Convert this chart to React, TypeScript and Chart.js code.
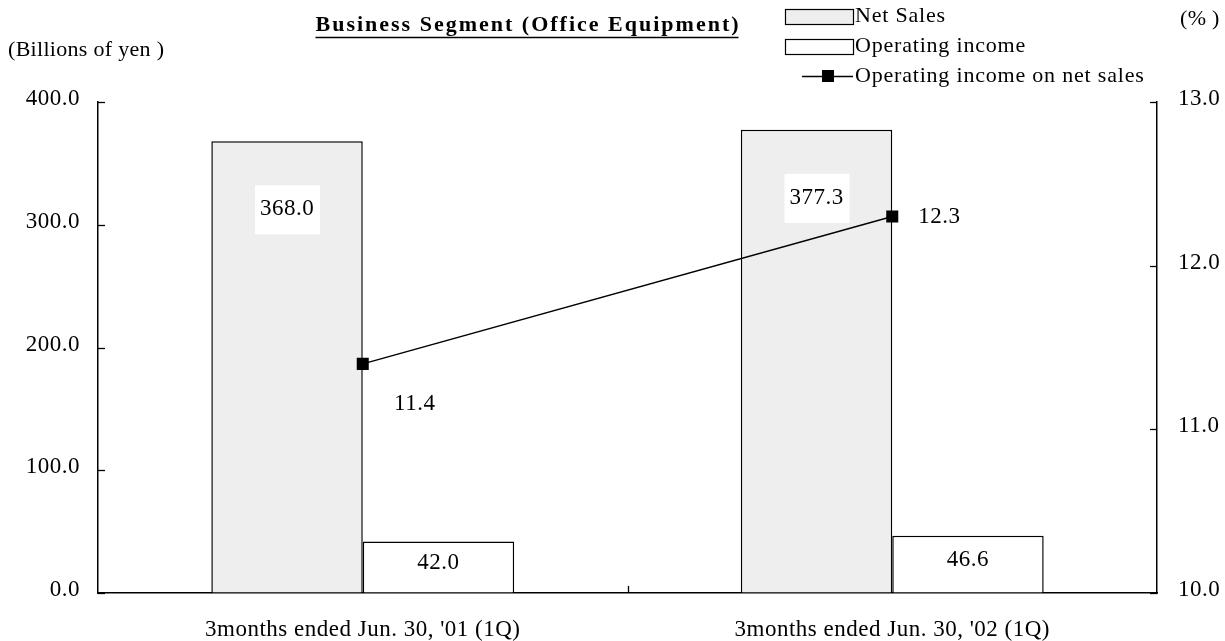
import React, { useEffect, useRef } from "react";
import { Chart, registerables } from "chart.js";

Chart.register(...registerables);

const categories = ["3months ended Jun. 30, '01 (1Q)", "3months ended Jun. 30, '02 (1Q)"];
const netSales = [368.0, 377.3];
const operatingIncome = [42.0, 46.6];
const incomeRatio = [11.4, 12.3];
const leftTicks = [0, 100, 200, 300, 400];
const rightTicks = [10, 11, 12, 13];

const FONT = "'Liberation Serif', 'Times New Roman', serif";
const SALES_FILL = "#eeeeee";

// offsets of the ratio labels from their points
const ratioLabelOffset = [
  { dx: 52, dy: 40 },
  { dx: 47, dy: 0 },
];

// slightly open tracking for all serif text
const spacingPlugin = {
  id: "spacing",
  beforeDraw(chart: any) {
    (chart.ctx as any).letterSpacing = "0.5px";
  },
};

const overlayPlugin = {
  id: "overlay",
  afterDraw(chart: any) {
    const { ctx, chartArea, scales } = chart;
    const { left, right, bottom } = chartArea;
    ctx.save();
    ctx.strokeStyle = "#000";
    ctx.lineWidth = 1.3;

    // inward tick marks
    leftTicks.forEach((v) => {
      const y = Math.round(scales.y.getPixelForValue(v)) + 0.5;
      ctx.beginPath();
      ctx.moveTo(left, y);
      ctx.lineTo(left + 7, y);
      ctx.stroke();
    });
    rightTicks.forEach((v) => {
      const y = Math.round(scales.y1.getPixelForValue(v)) + 0.5;
      ctx.beginPath();
      ctx.moveTo(right, y);
      ctx.lineTo(right - 7, y);
      ctx.stroke();
    });
    for (let i = 0; i < categories.length - 1; i++) {
      const x = Math.round(scales.x.getPixelForValue(i + 0.5)) + 0.5;
      ctx.beginPath();
      ctx.moveTo(x, bottom);
      ctx.lineTo(x, bottom - 7);
      ctx.stroke();
    }

    // value labels
    (ctx as any).letterSpacing = "0.5px";
    ctx.font = `23px ${FONT}`;
    ctx.textAlign = "center";
    ctx.textBaseline = "middle";
    const salesMeta = chart.getDatasetMeta(1);
    salesMeta.data.forEach((bar: any, i: number) => {
      const cy = bar.y + 68;
      ctx.fillStyle = "#fff";
      ctx.fillRect(bar.x - 32, cy - 24, 65, 49);
      ctx.fillStyle = "#000";
      ctx.fillText(netSales[i].toFixed(1), bar.x, cy);
    });
    const incomeMeta = chart.getDatasetMeta(2);
    incomeMeta.data.forEach((bar: any, i: number) => {
      const cy = (bar.y + bar.base) / 2 - 4;
      ctx.fillStyle = "#000";
      ctx.fillText(operatingIncome[i].toFixed(1), bar.x, cy);
    });
    const lineMeta = chart.getDatasetMeta(0);
    lineMeta.data.forEach((pt: any, i: number) => {
      ctx.fillText(incomeRatio[i].toFixed(1), pt.x + ratioLabelOffset[i].dx, pt.y + ratioLabelOffset[i].dy);
    });

    // title
    (ctx as any).letterSpacing = "2px";
    ctx.font = `bold 22px ${FONT}`;
    const title = "Business Segment (Office Equipment)";
    const tw = ctx.measureText(title).width - 2;
    const tx = 527;
    ctx.fillText(title, tx + 1, 25);
    ctx.lineWidth = 1.5;
    ctx.beginPath();
    ctx.moveTo(tx - tw / 2, 37.5);
    ctx.lineTo(tx + tw / 2, 37.5);
    ctx.stroke();

    // axis units
    (ctx as any).letterSpacing = "0.3px";
    ctx.font = `22px ${FONT}`;
    ctx.textAlign = "left";
    ctx.fillText("(Billions of yen )", 8, 50);
    ctx.fillText("(% )", 1180, 19);

    // legend
    (ctx as any).letterSpacing = "0.8px";
    const lx = 785;
    const rows = [
      { label: "Net Sales", y: 16, kind: "box", fill: SALES_FILL },
      { label: "Operating income", y: 46, kind: "box", fill: "#fff" },
      { label: "Operating income on net sales", y: 76, kind: "line", fill: "#000" },
    ];
    rows.forEach((r) => {
      if (r.kind === "box") {
        ctx.fillStyle = r.fill;
        ctx.fillRect(lx, r.y - 7, 68, 15);
        ctx.strokeStyle = "#000";
        ctx.lineWidth = 1.2;
        ctx.strokeRect(lx + 0.5, r.y - 6.5, 68, 15);
      } else {
        ctx.strokeStyle = "#000";
        ctx.lineWidth = 1.5;
        ctx.beginPath();
        ctx.moveTo(lx + 17, r.y + 0.5);
        ctx.lineTo(lx + 68, r.y + 0.5);
        ctx.stroke();
        ctx.fillStyle = "#000";
        ctx.fillRect(lx + 37, r.y - 6, 12, 12);
      }
      ctx.fillStyle = "#000";
      ctx.fillText(r.label, lx + 70, r.y);
    });
    ctx.restore();
    (ctx as any).letterSpacing = "0px";
  },
};

export default function App() {
  const ref = useRef<HTMLCanvasElement>(null);

  useEffect(() => {
    document.body.style.margin = "0";
    const canvas = ref.current!;
    const tickFont = { family: FONT, size: 23 };
    const chart = new Chart(canvas, {
      type: "bar",
      data: {
        labels: categories,
        datasets: [
          {
            type: "line",
            label: "Operating income on net sales",
            data: incomeRatio,
            yAxisID: "y1",
            borderColor: "#000",
            borderWidth: 1.5,
            backgroundColor: "#000",
            pointStyle: "rect",
            pointRadius: 8.5,
            pointBorderWidth: 0,
            order: 0,
          } as any,
          {
            label: "Net Sales",
            data: netSales,
            yAxisID: "y",
            backgroundColor: SALES_FILL,
            borderColor: "#000",
            borderWidth: 1.5,
            order: 1,
          },
          {
            label: "Operating income",
            data: operatingIncome,
            yAxisID: "y",
            backgroundColor: "#fff",
            borderColor: "#000",
            borderWidth: 1.5,
            order: 1,
          },
        ],
      },
      options: {
        responsive: false,
        animation: false,
        layout: { padding: { top: 102, left: 0, right: 0, bottom: 0 } },
        datasets: { bar: { categoryPercentage: 0.572, barPercentage: 1.0 } },
        plugins: { legend: { display: false }, tooltip: { enabled: false }, title: { display: false } },
        scales: {
          x: {
            offset: true,
            grid: { display: true, drawOnChartArea: false, drawTicks: false },
            border: { display: true, color: "#000", width: 1.5 },
            ticks: { color: "#000", font: tickFont, padding: 23, maxRotation: 0, autoSkip: false },
            afterFit: (s: any) => { s.height = 48; },
          },
          y: {
            position: "left",
            min: 0,
            max: 400,
            afterBuildTicks: (s: any) => { s.ticks = leftTicks.map((v) => ({ value: v })); },
            grid: { display: true, drawOnChartArea: false, drawTicks: false },
            border: { display: true, color: "#000", width: 1.5 },
            ticks: { color: "#000", font: tickFont, padding: 18, labelOffset: -3, callback: (v: any) => Number(v).toFixed(1) },
            afterFit: (s: any) => { s.width = 98; },
          },
          y1: {
            position: "right",
            min: 10,
            max: 13,
            afterBuildTicks: (s: any) => { s.ticks = rightTicks.map((v) => ({ value: v })); },
            grid: { display: true, drawOnChartArea: false, drawTicks: false },
            border: { display: true, color: "#000", width: 1.5 },
            ticks: { color: "#000", font: tickFont, padding: 21, labelOffset: -3, callback: (v: any) => Number(v).toFixed(1) },
            afterFit: (s: any) => { s.width = 68; },
          },
        },
      },
      plugins: [spacingPlugin, overlayPlugin],
    });
    return () => chart.destroy();
  }, []);

  return <canvas ref={ref} width={1225} height={641} style={{ display: "block" }} />;
}
